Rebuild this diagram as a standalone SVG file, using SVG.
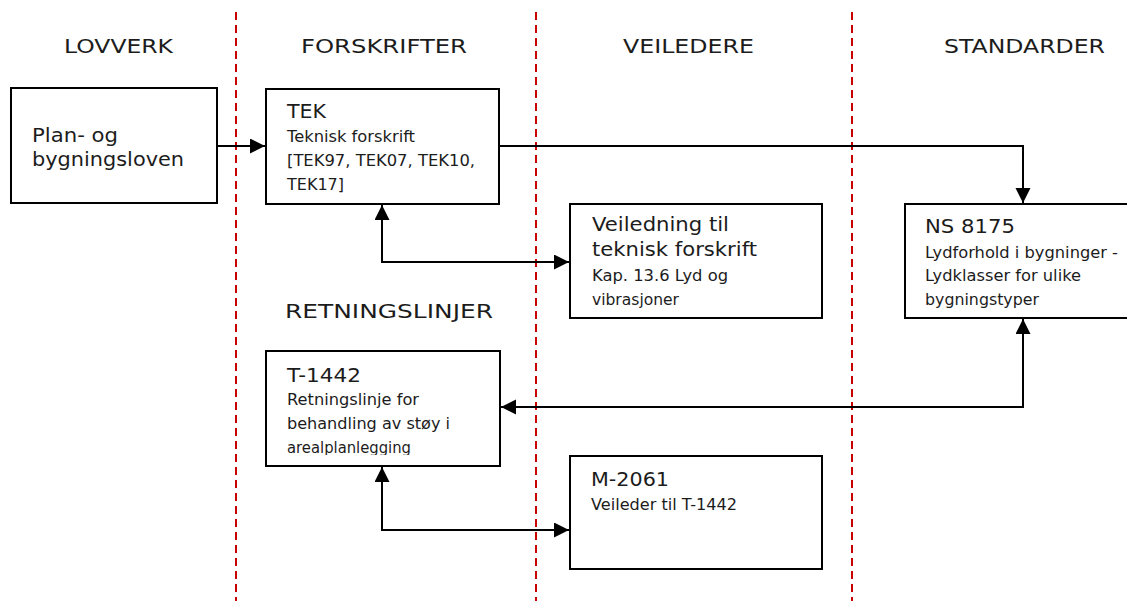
<svg xmlns="http://www.w3.org/2000/svg" width="1127" height="601" viewBox="0 0 1127 601">
<style>
  text { font-family: "DejaVu Sans", Verdana, sans-serif; fill: #1c1c1c; }
  .hdr { font-size: 20px; }
  .ttl { font-size: 20px; }
  .sub { font-size: 16px; }
  .box { fill: #ffffff; stroke: #000000; stroke-width: 2; }
  .lane { stroke: #c80000; stroke-width: 2; stroke-dasharray: 8 5; fill: none; }
  .conn { stroke: #000000; stroke-width: 2; fill: none; }
</style>
<defs>
  <marker id="arr" markerUnits="userSpaceOnUse" markerWidth="16" markerHeight="16" refX="15" refY="7.5" orient="auto-start-reverse">
    <path d="M0,0 L15,7.5 L0,15 z" fill="#000000"/>
  </marker>
  <clipPath id="clipT">
    <rect x="266" y="351" width="234" height="104"/>
  </clipPath>
</defs>
<rect width="1127" height="601" fill="#ffffff"/>

<g id="lanes">
  <line class="lane" x1="236" y1="12" x2="236" y2="601"/>
  <line class="lane" x1="536" y1="12" x2="536" y2="601"/>
  <line class="lane" x1="852" y1="12" x2="852" y2="601"/>
</g>

<g id="headers">
  <text class="hdr" x="64" y="53" textLength="109" lengthAdjust="spacingAndGlyphs">LOVVERK</text>
  <text class="hdr" x="301" y="53" textLength="166" lengthAdjust="spacingAndGlyphs">FORSKRIFTER</text>
  <text class="hdr" x="623" y="53" textLength="131" lengthAdjust="spacingAndGlyphs">VEILEDERE</text>
  <text class="hdr" x="944" y="53" textLength="161" lengthAdjust="spacingAndGlyphs">STANDARDER</text>
  <text class="hdr" x="285" y="318" textLength="208" lengthAdjust="spacingAndGlyphs">RETNINGSLINJER</text>
</g>

<g id="connectors">
  <path class="conn" d="M217,146 H265" marker-end="url(#arr)"/>
  <path class="conn" d="M499,146 H1023 V203" marker-end="url(#arr)"/>
  <path class="conn" d="M382,205 V262 H569" marker-start="url(#arr)" marker-end="url(#arr)"/>
  <path class="conn" d="M1023,319 V407 H501" marker-start="url(#arr)" marker-end="url(#arr)"/>
  <path class="conn" d="M382,467 V530 H569" marker-start="url(#arr)" marker-end="url(#arr)"/>
</g>

<g id="node-plan">
  <rect class="box" x="11" y="88" width="206" height="115"/>
  <text class="ttl" x="32" y="142" textLength="86" lengthAdjust="spacingAndGlyphs">Plan- og</text>
  <text class="ttl" x="32" y="166" textLength="152" lengthAdjust="spacingAndGlyphs">bygningsloven</text>
</g>

<g id="node-tek">
  <rect class="box" x="266" y="89" width="233" height="115"/>
  <text class="ttl" x="287" y="118" textLength="39" lengthAdjust="spacingAndGlyphs">TEK</text>
  <text class="sub" x="287" y="142" textLength="128" lengthAdjust="spacingAndGlyphs">Teknisk forskrift</text>
  <text class="sub" x="287" y="166" textLength="188" lengthAdjust="spacingAndGlyphs">[TEK97, TEK07, TEK10,</text>
  <text class="sub" x="287" y="190" textLength="57" lengthAdjust="spacingAndGlyphs">TEK17]</text>
</g>

<g id="node-veiledning">
  <rect class="box" x="570" y="204" width="252" height="114"/>
  <text class="ttl" x="592" y="231" textLength="137" lengthAdjust="spacingAndGlyphs">Veiledning til</text>
  <text class="ttl" x="592" y="256" textLength="165" lengthAdjust="spacingAndGlyphs">teknisk forskrift</text>
  <text class="sub" x="592" y="281" textLength="136" lengthAdjust="spacingAndGlyphs">Kap. 13.6 Lyd og</text>
  <text class="sub" x="592" y="305" textLength="87" lengthAdjust="spacingAndGlyphs">vibrasjoner</text>
</g>

<g id="node-ns8175">
  <rect class="box" x="905" y="204" width="240" height="114"/>
  <text class="ttl" x="925" y="233" textLength="90" lengthAdjust="spacingAndGlyphs">NS 8175</text>
  <text class="sub" x="925" y="258" textLength="193" lengthAdjust="spacingAndGlyphs">Lydforhold i bygninger -</text>
  <text class="sub" x="925" y="281" textLength="156" lengthAdjust="spacingAndGlyphs">Lydklasser for ulike</text>
  <text class="sub" x="925" y="305" textLength="114" lengthAdjust="spacingAndGlyphs">bygningstyper</text>
</g>

<g id="node-t1442">
  <rect class="box" x="266" y="351" width="234" height="115"/>
  <text class="ttl" x="287" y="382" textLength="74" lengthAdjust="spacingAndGlyphs">T-1442</text>
  <text class="sub" x="287" y="405" textLength="132" lengthAdjust="spacingAndGlyphs">Retningslinje for</text>
  <text class="sub" x="287" y="429" textLength="163" lengthAdjust="spacingAndGlyphs">behandling av støy i</text>
  <text class="sub" x="287" y="453" textLength="124" lengthAdjust="spacingAndGlyphs" clip-path="url(#clipT)">arealplanlegging</text>
</g>

<g id="node-m2061">
  <rect class="box" x="570" y="456" width="252" height="113"/>
  <text class="ttl" x="591" y="486" textLength="78" lengthAdjust="spacingAndGlyphs">M-2061</text>
  <text class="sub" x="591" y="510" textLength="146" lengthAdjust="spacingAndGlyphs">Veileder til T-1442</text>
</g>
</svg>
